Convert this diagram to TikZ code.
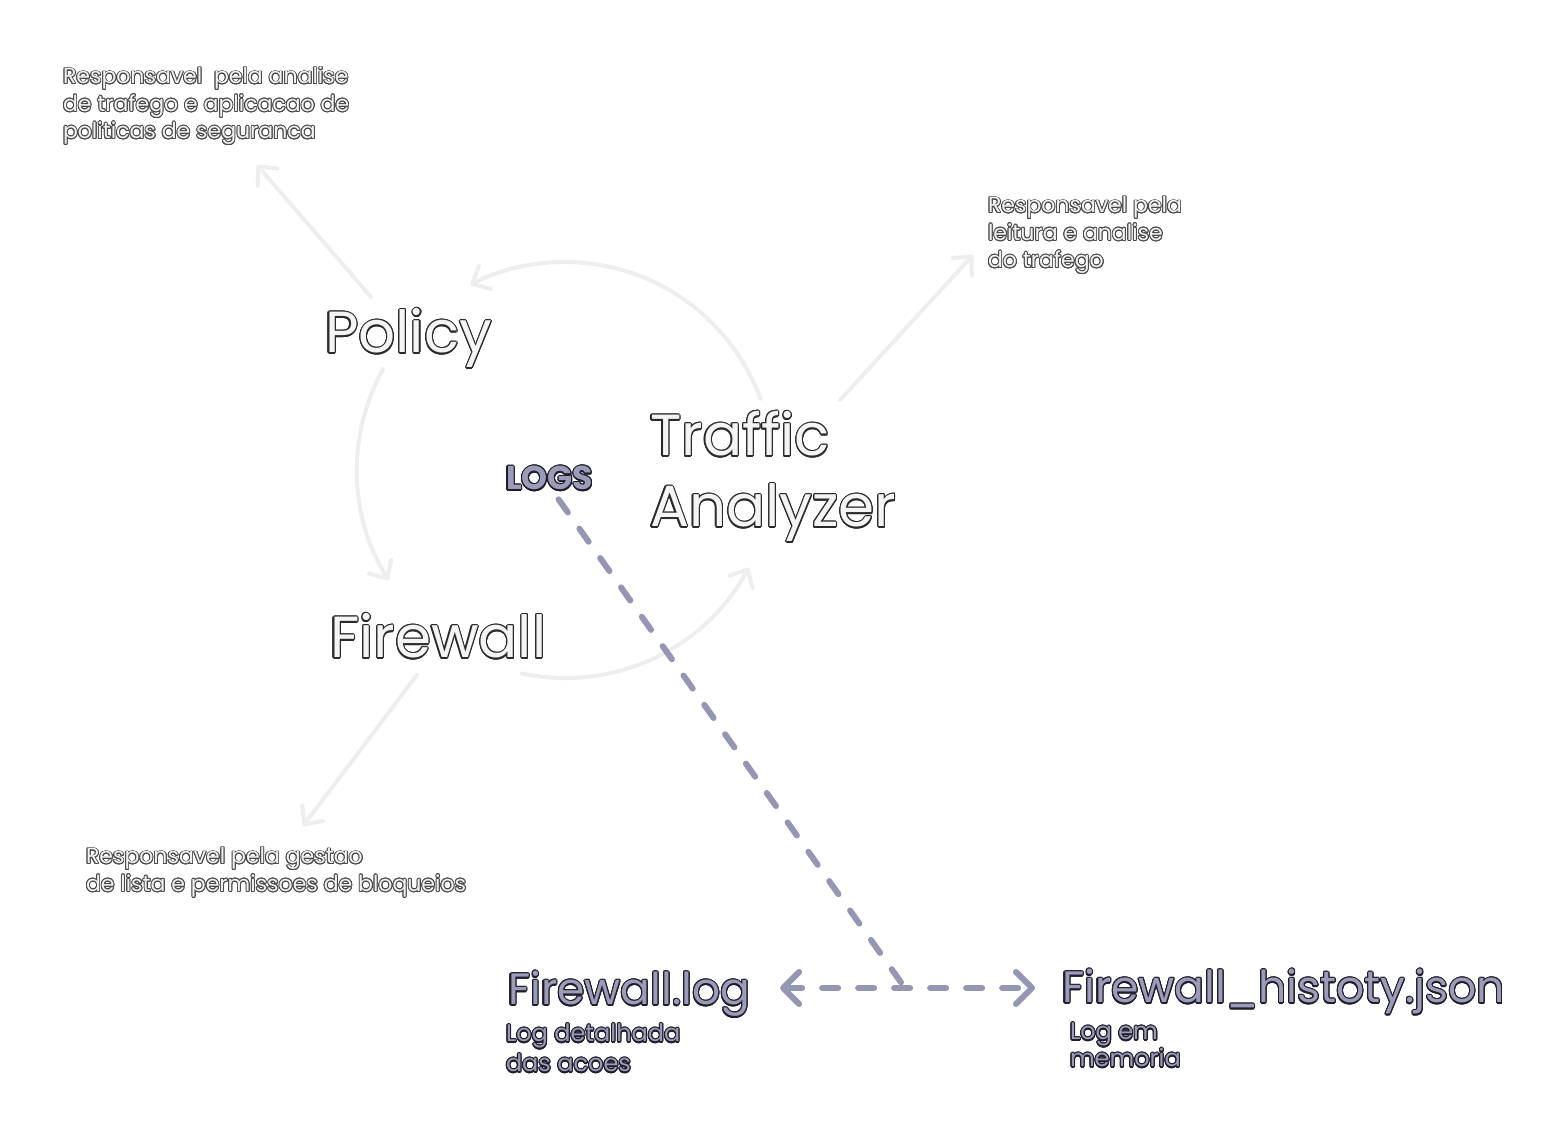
\documentclass[tikz,border=0pt]{standalone}
\usepackage{fontspec}
\setmainfont{Poppins}
\usepackage[copies]{contour}
\usetikzlibrary{arrows.meta}
\definecolor{bigfill}{HTML}{F4F4F4}
\definecolor{bigline}{HTML}{2A2A2A}
\definecolor{descfill}{HTML}{F2F2F2}
\definecolor{descline}{HTML}{4A4A4A}
\definecolor{pfill}{HTML}{9A9CB8}
\definecolor{pline}{HTML}{1E1E2C}
\definecolor{lightarr}{HTML}{EEEEEE}
\definecolor{dashc}{HTML}{9497B3}
% #1 contour width, #2 outline colour, #3 fill colour, #4 text
\newcommand\outl[4]{{\contourlength{#1}\color{#3}\contour{#2}{#4}}}
\newcommand\bigt[1]{\outl{0.55pt}{bigline}{bigfill}{#1}}
\newcommand\desct[1]{\outl{0.45pt}{descline}{descfill}{#1}}
\newcommand\purt[1]{\outl{0.55pt}{pline}{pfill}{#1}}
\tikzset{
  txt/.style={inner sep=0pt, outer sep=0pt, anchor=base west},
  bigtxt/.style={txt, font=\fontsize{29}{35.5}\selectfont},
  desctxt/.style={txt, font=\fontsize{11}{13.7}\selectfont},
  logtxt/.style={txt, font=\fontsize{16.5}{20}\selectfont\bfseries},
  midtxt/.style={txt, font=\fontsize{22}{26}\selectfont},
  subtxt/.style={txt, font=\fontsize{12}{14.5}\selectfont},
  lightarrow/.style={draw=lightarr, line width=2pt, line cap=round,
    -{Straight Barb[length=7pt, width=13pt, line cap=round, line join=round]}},
  dashline/.style={draw=dashc, line width=3pt, line cap=round, dash pattern=on 8pt off 10pt},
  dasharrow/.style={dashline,
    {Straight Barb[length=8pt, width=16pt, line cap=round, line join=round]}-{Straight Barb[length=8pt, width=16pt, line cap=round, line join=round]}}
}
\begin{document}
\begin{tikzpicture}[x=0.5pt, y=-0.5pt]
\useasboundingbox (0,0) rectangle (1565,1143);
\fill[white] (0,0) rectangle (1565,1143);

% descriptions
\node[desctxt] (dpolicy) at (63,84) {\begin{tabular}[t]{@{}l@{}}\desct{Responsavel\ \ pela analise}\\ \desct{de trafego e aplicacao de}\\ \desct{politicas de seguranca}\end{tabular}};
\node[desctxt] (dtraffic) at (988,213) {\begin{tabular}[t]{@{}l@{}}\desct{Responsavel pela}\\ \desct{leitura e analise}\\ \desct{do trafego}\end{tabular}};
\node[desctxt] (dfirewall) at (86,864) {\begin{tabular}[t]{@{}l@{}}\desct{Responsavel pela gestao}\\ \desct{de lista e permissoes de bloqueios}\end{tabular}};

% main components
\node[bigtxt] (policy) at (325,353) {\bigt{Policy}};
\node[bigtxt] (traffic) at (650,456) {\begin{tabular}[t]{@{}l@{}}\bigt{Traffic}\\ \bigt{Analyzer}\end{tabular}};
\node[bigtxt] (firewall) at (330,658) {\bigt{Firewall}};

% logs
\node[logtxt] (logs) at (506,490) {\purt{LOGS}};
\node[midtxt] (fwlog) at (508,1005) {\purt{Firewall.log}};
\node[midtxt] (fwhist) at (1062,1003) {\purt{Firewall\_histoty.json}};
\node[subtxt] (sublog) at (506,1042) {\begin{tabular}[t]{@{}l@{}}\purt{Log detalhada}\\[0.5pt] \purt{das acoes}\end{tabular}};
\node[subtxt] (subhist) at (1070,1040) {\begin{tabular}[t]{@{}l@{}}\purt{Log em}\\[-1pt] \purt{memoria}\end{tabular}};

% cycle arcs
\coordinate (cc) at (565,470);
\path (cc) ++(-20:208) coordinate (arcT);
\path (cc) ++(-151:208) coordinate (arcP);
\path (cc) ++(102:208) coordinate (arcF);
\draw[lightarrow] (arcT) arc[start angle=-20, end angle=-117, radius=208];
\draw[lightarrow] (arcP) arc[start angle=-151, end angle=-212, radius=208];
\draw[lightarrow] (arcF) arc[start angle=102, end angle=28, radius=208];

% description pointers
\coordinate (pA) at (371,297); \coordinate (pB) at (257,165);
\coordinate (tA) at (840,400); \coordinate (tB) at (973,255);
\coordinate (fA) at (417,675); \coordinate (fB) at (303,826);
\draw[lightarrow] (pA) -- (pB);
\draw[lightarrow] (tA) -- (tB);
\draw[lightarrow] (fA) -- (fB);

% log flow
\coordinate (junction) at (905,988);
\draw[dashline] ([shift={(4.5pt,-4pt)}]logs.south) -- (junction);
\draw[dasharrow] ([xshift=15pt]fwlog.east |- junction) -- ([xshift=-13.5pt]fwhist.west |- junction);
\end{tikzpicture}
\end{document}
